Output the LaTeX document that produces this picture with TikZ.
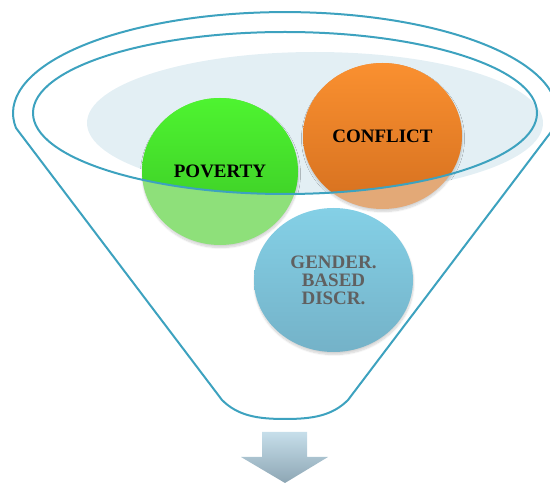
\documentclass[tikz,border=0pt]{standalone}
\usepackage{fontspec}
\setmainfont{Liberation Serif}
\usetikzlibrary{shadows.blur}
\definecolor{funnelline}{HTML}{3DA2BF}
\definecolor{fillell}{HTML}{E3EFF4}
\definecolor{gtop}{HTML}{4EF430}
\definecolor{gbot}{HTML}{3AC425}
\definecolor{gfade}{HTML}{8EE07A}
\definecolor{otop}{HTML}{FA9030}
\definecolor{obot}{HTML}{D5701F}
\definecolor{ofade}{HTML}{E3A977}
\definecolor{btop}{HTML}{84D0E6}
\definecolor{bbot}{HTML}{74B2C8}
\definecolor{atop}{HTML}{C6DEEA}
\definecolor{abot}{HTML}{8DA6B4}
\definecolor{graytext}{HTML}{606060}
\tikzset{
  funnel/.style={draw=funnelline, line width=2pt, line join=round},
  softshadow/.style={blur shadow={shadow blur steps=8, shadow xshift=0.5pt, shadow yshift=-2.5pt, shadow opacity=18, shadow blur radius=2pt}},
  label/.style={font=\fontsize{19}{18}\selectfont\bfseries, align=center, inner sep=0pt}
}
\begin{document}
\begin{tikzpicture}[x=1pt, y=-1pt]
\useasboundingbox (0,0) rectangle (550,489);
\clip (0,0) rectangle (550,489);
% light filled ellipse inside the funnel mouth
\fill[fillell] (315,123) ellipse [x radius=228, y radius=71];
% circles, faded (outside the mouth)
\fill[gfade, softshadow] (220,171.5) ellipse [x radius=78, y radius=73.5];
\fill[ofade, softshadow] (382.5,136) ellipse [x radius=79.5, y radius=73];
% full-colour parts inside the inner ellipse
\begin{scope}
  \clip (285,113) ellipse [x radius=252, y radius=81];
  \shade[top color=gtop, bottom color=gbot] (220,171.5) ellipse [x radius=78, y radius=73.5];
  \shade[top color=otop, bottom color=obot] (382.5,136) ellipse [x radius=79.5, y radius=73];
\end{scope}
% blue circle
\shade[top color=btop, bottom color=bbot, softshadow] (333.5,280) ellipse [x radius=79.5, y radius=72];
% funnel outline
\draw[funnel] (16,128) -- (222,400)
  .. controls (238,416) and (258,419) .. (285,419)
  .. controls (312,419) and (332,416) .. (348,400)
  -- (554,128) arc[start angle=8.5, end angle=-188.5, x radius=272, y radius=101] -- cycle;
\draw[funnel] (285,113) ellipse [x radius=252, y radius=81];
% labels
\node[label] (poverty) at (220,171) {POVERTY};
\node[label] (conflict) at (382.5,136) {CONFLICT};
\node[label, text=graytext] (gender) at (333.5,280) {GENDER.\\BASED\\DISCR.};
% arrow
\shade[top color=atop, bottom color=abot] (262,432) -- (307,432) -- (307,457) -- (328,457) -- (285,483) -- (241,457) -- (262,457) -- cycle;
\end{tikzpicture}
\end{document}
